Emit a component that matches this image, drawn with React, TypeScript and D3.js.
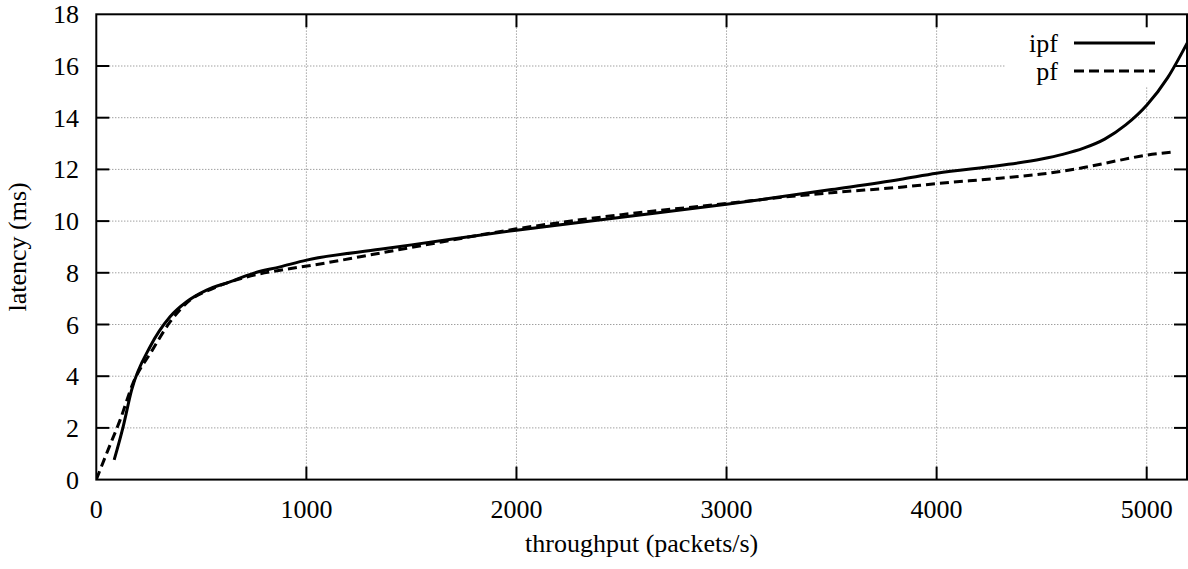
import React from 'react';
import * as d3 from 'd3';

const xTicks = [0, 1000, 2000, 3000, 4000, 5000];
const yTicks = [0, 2, 4, 6, 8, 10, 12, 14, 16, 18];

const ipfX = [85, 128, 168, 256, 351, 430, 525, 636, 747, 875, 1001, 1350, 1500, 2000, 2500, 3000, 3200, 3500, 3825, 4000, 4300, 4500, 4600, 4700, 4800, 4900, 5000, 5100, 5200];
const ipfY = [0.76, 2.05, 3.46, 5.14, 6.3, 6.88, 7.33, 7.65, 7.98, 8.23, 8.49, 8.91, 9.08, 9.65, 10.15, 10.65, 10.87, 11.22, 11.61, 11.85, 12.15, 12.4, 12.58, 12.82, 13.17, 13.72, 14.48, 15.55, 17.0];

const pfX = [0, 56, 113, 175, 266, 351, 446, 557, 716, 875, 1033, 1350, 1500, 2000, 2500, 3000, 3300, 3500, 3840, 4000, 4300, 4500, 4700, 4856, 4999, 5125];
const pfY = [0, 1.15, 2.3, 3.73, 5.0, 6.1, 6.94, 7.4, 7.84, 8.1, 8.3, 8.76, 8.98, 9.7, 10.25, 10.68, 10.95, 11.1, 11.32, 11.45, 11.66, 11.82, 12.07, 12.33, 12.55, 12.67];

const seriesNames = ['ipf', 'pf'];

const W = 1188, H = 569;
const L = 96.3, R = 1187, T = 14.3, B = 479.6;
const FONT = '"Liberation Serif", "Times New Roman", serif';

export default function App() {
  const x = d3.scaleLinear().domain([0, 5200]).range([L, L + 5200 * ((1146.7 - 96.3) / 5000)]);
  const y = d3.scaleLinear().domain([0, 18]).range([B, T]);
  const line = d3.line<[number, number]>().x(d => x(d[0])).y(d => y(d[1])).curve(d3.curveMonotoneX);
  const ipf = ipfX.map((v, i) => [v, ipfY[i]] as [number, number]);
  const pf = pfX.map((v, i) => [v, pfY[i]] as [number, number]);
  const tick = 13;
  const legX1 = 1074, legX2 = 1155;
  const legTextX = 1058;
  const legY = [43, 71];

  return (
    <svg width={W} height={H} style={{ position: 'absolute', left: 0, top: 0, background: '#fff' }} fontFamily={FONT}>
      <defs>
        <clipPath id="plotclip">
          <rect x={L} y={T} width={R - L} height={B - T} />
        </clipPath>
      </defs>
      {/* grid */}
      <g stroke="#777" strokeWidth={1} strokeDasharray="1,2">
        {yTicks.filter(t => t > 0 && t < 18).map(t => (
          <line key={'gy' + t} x1={L + tick} x2={R - tick} y1={y(t)} y2={y(t)} />
        ))}
        {xTicks.filter(t => t > 0).map(t => (
          <line key={'gx' + t} x1={x(t)} x2={x(t)} y1={B - tick} y2={T + tick} />
        ))}
      </g>
      {/* legend background */}
      <rect x={1005} y={T + 1} width={R - 1005 - 1} height={85 - T} fill="#fff" />
      {/* ticks */}
      <g stroke="#000" strokeWidth={2}>
        {yTicks.filter(t => t > 0 && t < 18).map(t => (
          <g key={'ty' + t}>
            <line x1={L} x2={L + tick} y1={y(t)} y2={y(t)} />
            <line x1={R} x2={R - tick} y1={y(t)} y2={y(t)} />
          </g>
        ))}
        {xTicks.filter(t => t > 0).map(t => (
          <g key={'tx' + t}>
            <line x1={x(t)} x2={x(t)} y1={B} y2={B - tick} />
            <line x1={x(t)} x2={x(t)} y1={T} y2={T + tick} />
          </g>
        ))}
      </g>
      {/* curves */}
      <g clipPath="url(#plotclip)">
        <path d={line(ipf) || ''} fill="none" stroke="#000" strokeWidth={3} strokeLinejoin="round" />
        <path d={line(pf) || ''} fill="none" stroke="#000" strokeWidth={3} strokeDasharray="9,5" />
      </g>
      {/* border */}
      <rect x={L} y={T} width={R - L} height={B - T} fill="none" stroke="#000" strokeWidth={2} />
      {/* tick labels */}
      <g fontSize={26} fill="#000">
        {yTicks.map(t => (
          <text key={'ly' + t} x={79} y={y(t) + 9} textAnchor="end">{t}</text>
        ))}
        {xTicks.map(t => (
          <text key={'lx' + t} x={x(t)} y={518} textAnchor="middle">{t}</text>
        ))}
        <text x={(L + R) / 2} y={552} textAnchor="middle">throughput (packets/s)</text>
        <text transform={`translate(26,${(T + B) / 2}) rotate(-90)`} textAnchor="middle">latency (ms)</text>
      </g>
      {/* legend */}
      <g fontSize={26}>
        {seriesNames.map((n, i) => (
          <g key={n}>
            <text x={legTextX} y={legY[i] + 9} textAnchor="end">{n}</text>
            <line x1={legX1} x2={legX2} y1={legY[i]} y2={legY[i]} stroke="#000" strokeWidth={3} strokeDasharray={i === 1 ? '10,5' : undefined} />
          </g>
        ))}
      </g>
    </svg>
  );
}
